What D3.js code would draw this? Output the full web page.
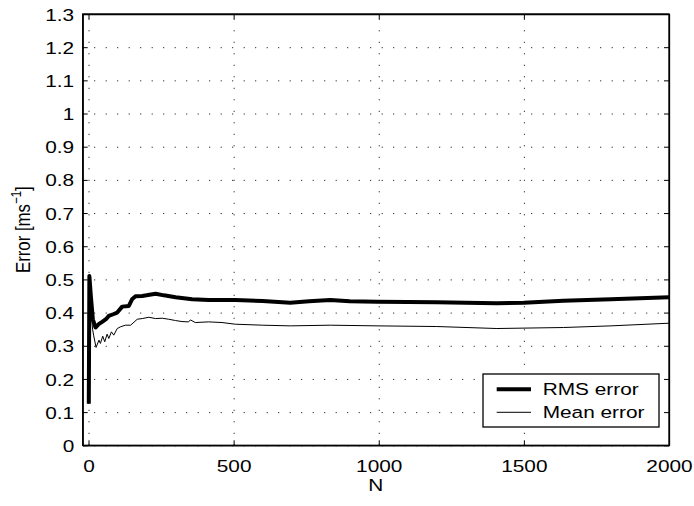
<!DOCTYPE html>
<html>
<head>
<meta charset="utf-8">
<script src="https://cdn.jsdelivr.net/npm/d3@7"></script>
<style>
body { margin: 0; background: #fff; }
text { font-family: "Liberation Sans", Arial, sans-serif; fill: #000; }
</style>
</head>
<body>
<div id="chart"></div>
<script>
// RMS error (thick line)
var rmsN = [1, 3, 8, 15, 24, 35, 47, 60, 70, 85, 99, 116, 139, 150, 162, 185, 200, 231, 260, 300, 357, 414, 506, 600, 695, 760, 833, 900, 994, 1100, 1200, 1300, 1407, 1500, 1636, 1800, 2000];
var rmsVal = [0.125, 0.51, 0.45, 0.38, 0.355, 0.365, 0.372, 0.38, 0.39, 0.395, 0.40, 0.418, 0.42, 0.44, 0.449, 0.45, 0.452, 0.457, 0.452, 0.446, 0.44, 0.438, 0.438, 0.435, 0.430, 0.434, 0.438, 0.434, 0.433, 0.432, 0.431, 0.430, 0.428, 0.430, 0.436, 0.440, 0.446];

// Mean error (thin line)
var meanN = [1, 3, 6, 10, 14, 18, 26, 36, 41, 49, 56, 64, 70, 79, 87, 99, 110, 127, 145, 168, 185, 208, 231, 254, 276, 300, 322, 345, 351, 368, 414, 460, 506, 600, 695, 833, 994, 1200, 1407, 1636, 1800, 2000];
var meanVal = [0.125, 0.50, 0.44, 0.39, 0.35, 0.33, 0.295, 0.317, 0.307, 0.329, 0.312, 0.335, 0.322, 0.342, 0.332, 0.352, 0.357, 0.362, 0.362, 0.380, 0.382, 0.386, 0.382, 0.383, 0.380, 0.376, 0.373, 0.372, 0.378, 0.370, 0.372, 0.370, 0.365, 0.362, 0.360, 0.362, 0.360, 0.358, 0.352, 0.355, 0.360, 0.368];

var xTicks = [0, 500, 1000, 1500, 2000];
var yTicks = [0, 0.1, 0.2, 0.3, 0.4, 0.5, 0.6, 0.7, 0.8, 0.9, 1, 1.1, 1.2, 1.3];
var legendLabels = ["RMS error", "Mean error"];
var legendWidths = [4, 1];

var svgWidth = 694, svgHeight = 506;
var margin = { top: 14, right: 25, bottom: 60.7, left: 82.7 };
var width = svgWidth - margin.left - margin.right;
var height = svgHeight - margin.top - margin.bottom;
var fontSize = 16.8;
var sx = 1.24; // picture is stretched sideways

var svg = d3.select("#chart").append("svg")
  .attr("width", svgWidth)
  .attr("height", svgHeight)
  .style("background", "#fff");

var chartGroup = svg.append("g")
  .attr("transform", `translate(${margin.left}, ${margin.top})`);

var xScale = d3.scaleLinear().domain([-20, 2000]).range([0, width]);
var yScale = d3.scaleLinear().domain([0, 1.3]).range([height, 0]);

// dotted grid
chartGroup.append("g")
  .attr("class", "grid")
  .attr("transform", `translate(0, ${height})`)
  .call(d3.axisBottom(xScale).tickValues(xTicks).tickSize(-height).tickFormat(""));
chartGroup.append("g")
  .attr("class", "grid")
  .call(d3.axisLeft(yScale).tickValues(yTicks).tickSize(-width).tickFormat(""));
chartGroup.selectAll(".grid .domain").remove();
chartGroup.selectAll(".grid line")
  .attr("stroke", "#000")
  .attr("stroke-width", 1)
  .attr("stroke-dasharray", "1,10.5");

// lines
var line = d3.line()
  .x(d => xScale(d[0]))
  .y(d => yScale(d[1]));

var meanData = meanN.map((n, i) => [n, meanVal[i]]);
var rmsData = rmsN.map((n, i) => [n, rmsVal[i]]);

chartGroup.append("path")
  .datum(meanData)
  .attr("fill", "none")
  .attr("stroke", "#000")
  .attr("stroke-width", 1)
  .attr("d", line);

chartGroup.append("path")
  .datum(rmsData)
  .attr("fill", "none")
  .attr("stroke", "#000")
  .attr("stroke-width", 4)
  .attr("stroke-linejoin", "round")
  .attr("d", line);

// axes, ticks pointing in
var xAxis = chartGroup.append("g")
  .attr("transform", `translate(0, ${height})`)
  .call(d3.axisBottom(xScale).tickValues(xTicks).tickSize(-5).tickSizeOuter(0).tickPadding(0).tickFormat(d3.format("d")));
var yAxis = chartGroup.append("g")
  .call(d3.axisLeft(yScale).tickValues(yTicks).tickSize(-5).tickSizeOuter(0).tickFormat(d3.format("")));
chartGroup.append("g")
  .call(d3.axisTop(xScale).tickValues(xTicks).tickSize(-5).tickSizeOuter(0).tickFormat(""));
chartGroup.append("g")
  .attr("transform", `translate(${width}, 0)`)
  .call(d3.axisRight(yScale).tickValues(yTicks).tickSize(-5).tickSizeOuter(0).tickFormat(""));

chartGroup.selectAll(".domain").attr("stroke", "#000").attr("stroke-width", 1.3);
chartGroup.selectAll(".tick line").filter(function() {
  return d3.select(this.parentNode.parentNode).attr("class") !== "grid";
}).attr("stroke", "#000").attr("stroke-width", 1);

xAxis.selectAll("text")
  .attr("y", 27)
  .attr("dy", null)
  .attr("font-size", fontSize)
  .attr("transform", `scale(${sx},1)`);

yAxis.selectAll("text")
  .attr("x", -8.5 / sx)
  .attr("dy", "0.36em")
  .attr("font-size", fontSize)
  .attr("transform", `scale(${sx},1)`);

chartGroup.selectAll(".tick text").attr("fill", "#000");

// box
chartGroup.append("rect")
  .attr("width", width)
  .attr("height", height)
  .attr("fill", "none")
  .attr("stroke", "#000")
  .attr("stroke-width", 1.3);

// axis labels
svg.append("text")
  .attr("transform", `translate(${margin.left + width / 2}, 491) scale(${sx},1)`)
  .attr("text-anchor", "middle")
  .attr("font-size", fontSize)
  .text("N");

var yLabel = svg.append("text")
  .attr("transform", `translate(30, ${margin.top + height / 2}) scale(${sx},1) rotate(-90)`)
  .attr("text-anchor", "middle")
  .attr("font-size", fontSize);
yLabel.append("tspan").text("Error [ms");
yLabel.append("tspan").attr("font-size", 11.5).attr("dy", -7).text("\u22121");
yLabel.append("tspan").attr("dy", 7).text("]");

// legend
var legend = svg.append("g").attr("transform", "translate(483, 374)");
legend.append("rect")
  .attr("width", 176)
  .attr("height", 53)
  .attr("fill", "#fff")
  .attr("stroke", "#000")
  .attr("stroke-width", 1.3);

legendLabels.forEach((label, i) => {
  var cy = 15.3 + i * 23;
  legend.append("line")
    .attr("x1", 13.7).attr("x2", 48)
    .attr("y1", cy).attr("y2", cy)
    .attr("stroke", "#000")
    .attr("stroke-width", legendWidths[i]);
  legend.append("text")
    .attr("transform", `translate(59.7, ${cy + 6}) scale(${sx},1)`)
    .attr("font-size", fontSize)
    .text(label);
});
</script>
</body>
</html>
